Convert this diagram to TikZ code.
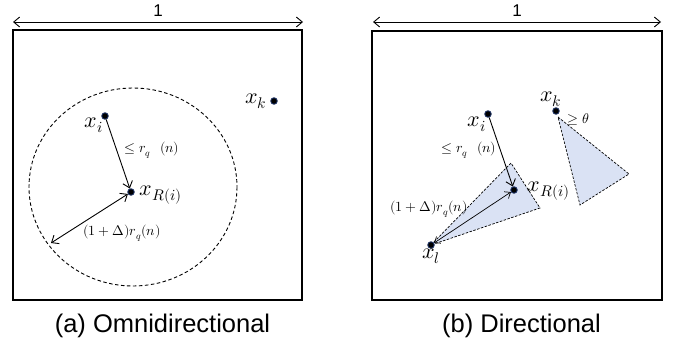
\documentclass[tikz,border=0pt]{standalone}
\usepackage{fontspec}
\usepackage{unicode-math}
\setmathfont{Latin Modern Math}
\setsansfont{Liberation Sans}
\usetikzlibrary{arrows.meta}

\definecolor{dotblue}{RGB}{28,48,96}
\definecolor{conefill}{RGB}{218,226,244}

\begin{document}
\begin{tikzpicture}[x=1pt, y=-1pt, line width=0.9pt,
  >={Straight Barb[length=6pt,width=10pt]},
  dot/.style={circle,fill=black,draw=dotblue,line width=0.9pt,inner sep=0pt,minimum size=6.5pt},
  xlab/.style={inner sep=0pt,font=\fontsize{22}{26}\selectfont},
  rlab/.style={inner sep=0pt,font=\fontsize{14}{17}\selectfont},
  numlab/.style={inner sep=0pt,font=\sffamily\fontsize{17}{20}\selectfont},
  caption/.style={inner sep=0pt,font=\sffamily\fontsize{25.5}{30}\selectfont},
  cone/.style={draw,line width=0.7pt,dash pattern=on 2.5pt off 1.5pt,fill=conefill}]
  \useasboundingbox (0,0) rectangle (681,348);

  % (a) omnidirectional
  \draw[line width=1.2pt] (13,30) rectangle (302,300);
  \coordinate (la) at (13,22);
  \coordinate (ra) at (303,22);
  \draw[<->] (la) -- (ra);
  \node[numlab] (onea) at (158,11) {1};
  \draw[line width=0.9pt,dash pattern=on 3.5pt off 2.5pt] (133,187) ellipse [x radius=104, y radius=99];
  \coordinate (rim) at (51,243);
  \node[dot] (xia) at (105,116) {};
  \node[dot] (xra) at (131,192) {};
  \node[dot] (xka) at (274,101) {};
  \draw[->] (xia) -- (xra);
  \draw[<->] (rim) -- (xra);
  \node[xlab] (lxia) at (94,125) {$x_i$};
  \node[xlab,anchor=west] (lxra) at (139,195) {$x_{R(i)}$};
  \node[xlab] (lxka) at (256,101) {$x_k$};
  \node[rlab] (ra1) at (152,150) {$\le r_q\ \ (n)$};
  \node[rlab] (ra2) at (122,233) {$(1+\Delta)r_q(n)$};
  \node[caption] (capa) at (162.5,326) {(a) Omnidirectional};

  % (b) directional
  \draw[line width=1.2pt] (372,31) rectangle (662,300);
  \coordinate (lb) at (373,22);
  \coordinate (rb) at (661,22);
  \draw[<->] (lb) -- (rb);
  \node[numlab] (oneb) at (517,11) {1};
  \draw[cone] (431,245) -- (511,163) -- (540,208) -- cycle;
  \draw[cone] (558,117) -- (629,174) -- (580,205) -- cycle;
  \node[dot] (xib) at (488,114) {};
  \node[dot] (xrb) at (514,190) {};
  \node[dot] (xlb) at (431,245) {};
  \node[dot] (xkb) at (556,111) {};
  \draw[->] (xib) -- (xrb);
  \draw[<->,line width=0.7pt,>={Straight Barb[length=5pt,width=8pt]}] (xlb) -- (xrb);
  \node[xlab] (lxib) at (477,124) {$x_i$};
  \node[xlab,anchor=west] (lxrb) at (527,191) {$x_{R(i)}$};
  \node[xlab] (lxlb) at (431,256) {$x_l$};
  \node[xlab] (lxkb) at (551,99) {$x_k$};
  \node[rlab] (rb1) at (469,150) {$\le r_q\ \ (n)$};
  \node[rlab] (rb2) at (429,209) {$(1+\Delta)r_q(n)$};
  \node[rlab] (theta) at (578,119) {$\ge\theta$};
  \node[caption] (capb) at (521.5,326) {(b) Directional};
\end{tikzpicture}
\end{document}
